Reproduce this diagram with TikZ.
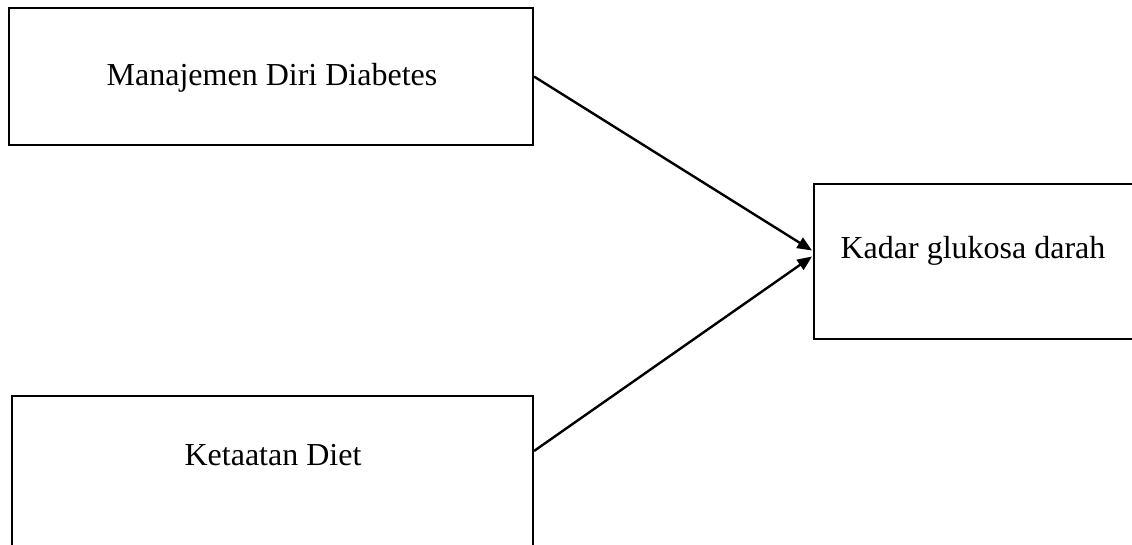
\documentclass[tikz,border=0pt]{standalone}
\usepackage{fontspec}
\setmainfont{Liberation Serif}
\usetikzlibrary{arrows.meta,calc}
\tikzset{
  box/.style={draw, line width=1.5pt, rectangle, inner sep=0pt},
  lbl/.style={font=\fontsize{24}{28}\selectfont, inner sep=0pt},
  conn/.style={line width=1.8pt, -{Triangle[length=11pt,width=9pt]}}
}
\begin{document}
\begin{tikzpicture}[x=0.75pt,y=-0.75pt]
\useasboundingbox (0,0) rectangle (1132,544);
\clip (0,0) rectangle (1132,544);
\node[box, minimum width=524*0.75pt, minimum height=137*0.75pt] (b1) at (271,76.5) {};
\node[box, minimum width=330*0.75pt, minimum height=155*0.75pt] (b2) at (979,261.5) {};
\node[box, minimum width=521*0.75pt, minimum height=170*0.75pt] (b3) at (272.5,481) {};
\node[lbl] (t1) at (272,78) {Manajemen Diri Diabetes};
\node[lbl] (t2) at (973,251) {Kadar glukosa darah};
\node[lbl] (t3) at (273,455) {Ketaatan Diet};
\coordinate (e3) at ($(b3.north east)+(0,56)$);
\coordinate (h1) at ($(b2.west)+(-1,-11)$);
\coordinate (h2) at ($(b2.west)+(-1,-5)$);
\draw[conn] (b1.east) -- (h1);
\draw[conn] (e3) -- (h2);
\end{tikzpicture}
\end{document}
